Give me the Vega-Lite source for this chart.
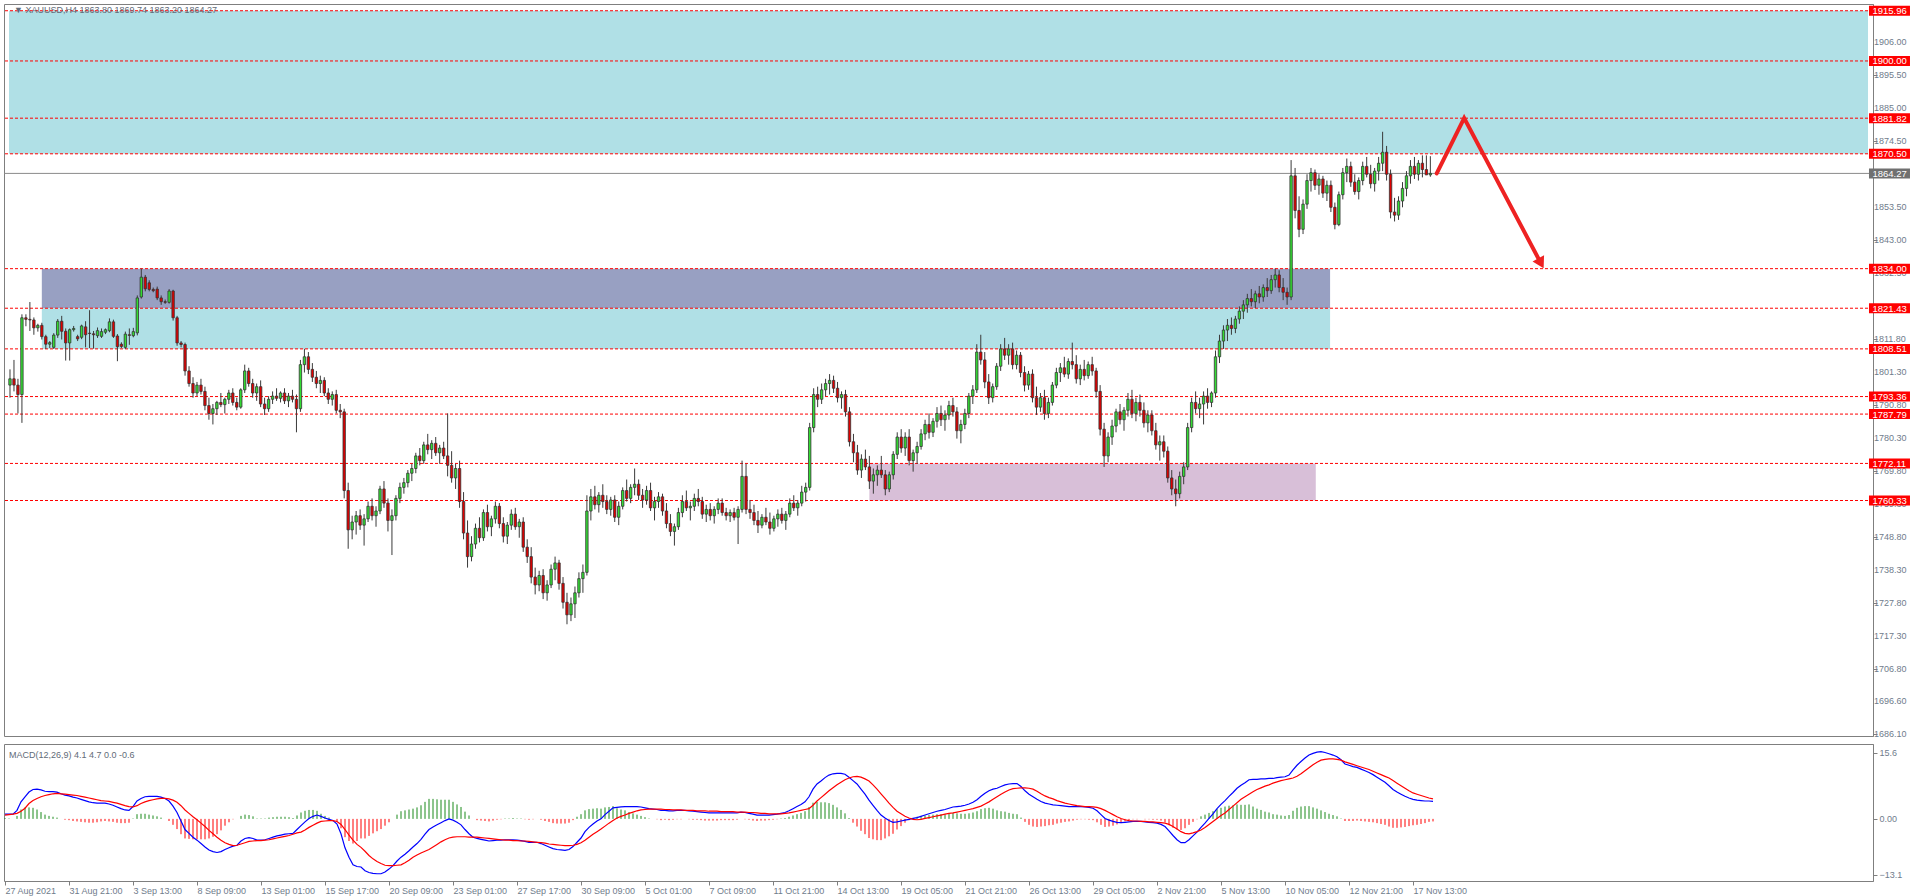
{
"$schema":"https://vega.github.io/schema/vega-lite/v6.json",
"padding":{"left":2,"top":3,"right":0,"bottom":0},
"background":"white",
"spacing":3,
"config":{"view":{"stroke":"#7f7f7f","strokeWidth":1},"axis":{"labelFont":"Liberation Sans","labelFontSize":9,"labelColor":"#6f7c8c","domainColor":"#7f7f7f","tickColor":"#7f7f7f","grid":false,"title":null,"labelOverlap":false}},
"datasets":{
"zones":[{"z":"top","a":-0.25,"b":467,"lo":1870.5,"hi":1915.96},{"z":"dark","a":8,"b":331.8,"lo":1821.43,"hi":1834},{"z":"cyan","a":8,"b":331.8,"lo":1808.51,"hi":1821.43},{"z":"pink","a":216,"b":328.2,"lo":1760.33,"hi":1772.11}],
"levels":[{"p":1915.96,"k":"level"},{"p":1900,"k":"level"},{"p":1881.82,"k":"level"},{"p":1870.5,"k":"level"},{"p":1834,"k":"level"},{"p":1821.43,"k":"level"},{"p":1808.51,"k":"level"},{"p":1793.36,"k":"level"},{"p":1787.79,"k":"level"},{"p":1772.11,"k":"level"},{"p":1760.33,"k":"level"},{"p":1864.27,"k":"price"}],
"yticks":[{"v":1906},{"v":1895.5},{"v":1885},{"v":1874.5},{"v":1853.5},{"v":1843},{"v":1832.5},{"v":1811.8},{"v":1801.3},{"v":1790.8},{"v":1780.3},{"v":1769.8},{"v":1759.3},{"v":1748.8},{"v":1738.3},{"v":1727.8},{"v":1717.3},{"v":1706.8},{"v":1696.6},{"v":1686.1}],
"arrow":[{"n":0,"i":358.6,"p":1864.27},{"n":1,"i":365.5,"p":1881.82},{"n":2,"i":384.8,"p":1835.7}],
"bars":[
{"i":0,"o":1797,"h":1802,"l":1793,"c":1799,"m":1.1,"s":0.9,"d":0.2},
{"i":1,"o":1799,"h":1805,"l":1795,"c":1797,"m":1.1,"s":1.0,"d":0.1},
{"i":2,"o":1797,"h":1799,"l":1788,"c":1794,"m":1.1,"s":1.1,"d":0.0},
{"i":3,"o":1794,"h":1819.5,"l":1785,"c":1818.4,"m":2.0,"s":1.3,"d":0.7},
{"i":4,"o":1818.4,"h":1819.5,"l":1815.7,"c":1817.9,"m":4.0,"s":1.8,"d":2.2},
{"i":5,"o":1817.9,"h":1823.4,"l":1814.2,"c":1817.7,"m":5.2,"s":2.5,"d":2.7},
{"i":6,"o":1817.7,"h":1818.5,"l":1813,"c":1815.2,"m":6.3,"s":3.6,"d":2.7},
{"i":7,"o":1815.2,"h":1816.5,"l":1814,"c":1816,"m":6.9,"s":4.3,"d":2.6},
{"i":8,"o":1816,"h":1816.8,"l":1811.5,"c":1812.4,"m":7.0,"s":4.8,"d":2.2},
{"i":9,"o":1812.4,"h":1813,"l":1808.5,"c":1810,"m":6.8,"s":5.2,"d":1.6},
{"i":10,"o":1810,"h":1811,"l":1808.8,"c":1810.5,"m":6.5,"s":5.5,"d":1.0},
{"i":11,"o":1809,"h":1813.5,"l":1808.5,"c":1812.9,"m":6.4,"s":5.7,"d":0.7},
{"i":12,"o":1812.9,"h":1818,"l":1812,"c":1817.3,"m":6.4,"s":5.9,"d":0.5},
{"i":13,"o":1817.3,"h":1819,"l":1811.5,"c":1814.1,"m":6.3,"s":6.0,"d":0.3},
{"i":14,"o":1814.1,"h":1815,"l":1804.8,"c":1810.4,"m":5.9,"s":5.9,"d":0.0},
{"i":15,"o":1810.4,"h":1815,"l":1804.8,"c":1814.6,"m":5.6,"s":5.8,"d":-0.2},
{"i":16,"o":1814.6,"h":1815.8,"l":1814,"c":1815,"m":5.4,"s":5.7,"d":-0.3},
{"i":17,"o":1812.4,"h":1813,"l":1811,"c":1811.7,"m":5.1,"s":5.6,"d":-0.5},
{"i":18,"o":1812.2,"h":1816.2,"l":1811.6,"c":1815.8,"m":4.9,"s":5.5,"d":-0.6},
{"i":19,"o":1815.5,"h":1817.3,"l":1809,"c":1813,"m":4.6,"s":5.3,"d":-0.7},
{"i":20,"o":1813.5,"h":1820.8,"l":1808.8,"c":1813.4,"m":4.3,"s":5.1,"d":-0.8},
{"i":21,"o":1813.3,"h":1814.2,"l":1808.6,"c":1813,"m":4.0,"s":4.9,"d":-0.9},
{"i":22,"o":1812.7,"h":1815.3,"l":1812,"c":1814.3,"m":3.8,"s":4.7,"d":-0.9},
{"i":23,"o":1812.5,"h":1815,"l":1812,"c":1814,"m":3.7,"s":4.5,"d":-0.8},
{"i":24,"o":1813.8,"h":1815,"l":1813.2,"c":1814.6,"m":3.7,"s":4.3,"d":-0.6},
{"i":25,"o":1814.3,"h":1818.2,"l":1813.8,"c":1817.1,"m":3.7,"s":4.2,"d":-0.5},
{"i":26,"o":1817.1,"h":1817.8,"l":1812,"c":1812.5,"m":3.5,"s":4.1,"d":-0.6},
{"i":27,"o":1812.6,"h":1813.2,"l":1804.6,"c":1809.2,"m":3.2,"s":3.9,"d":-0.7},
{"i":28,"o":1810,"h":1810.6,"l":1808.8,"c":1809.3,"m":2.8,"s":3.7,"d":-0.9},
{"i":29,"o":1809,"h":1814,"l":1808.5,"c":1813.2,"m":2.4,"s":3.4,"d":-1.0},
{"i":30,"o":1813,"h":1815,"l":1809.8,"c":1812.8,"m":2.1,"s":3.1,"d":-1.0},
{"i":31,"o":1812.7,"h":1815.2,"l":1812.2,"c":1814,"m":2.0,"s":2.9,"d":-0.9},
{"i":32,"o":1813.6,"h":1825.5,"l":1812.8,"c":1824.7,"m":2.9,"s":2.8,"d":0.1},
{"i":33,"o":1825,"h":1834,"l":1824.5,"c":1831.3,"m":4.2,"s":3.1,"d":1.1},
{"i":34,"o":1831.3,"h":1832,"l":1826.8,"c":1827.6,"m":4.8,"s":3.6,"d":1.2},
{"i":35,"o":1829.5,"h":1830.3,"l":1826.8,"c":1827.4,"m":5.2,"s":4.0,"d":1.2},
{"i":36,"o":1827.4,"h":1828,"l":1826.5,"c":1827,"m":5.3,"s":4.3,"d":1.0},
{"i":37,"o":1827.5,"h":1828.3,"l":1824,"c":1824.7,"m":5.3,"s":4.5,"d":0.8},
{"i":38,"o":1824.7,"h":1825.5,"l":1822.5,"c":1823.5,"m":5.3,"s":4.7,"d":0.6},
{"i":39,"o":1823.5,"h":1824.2,"l":1822.8,"c":1823.3,"m":5.1,"s":4.8,"d":0.3},
{"i":40,"o":1823.3,"h":1827.5,"l":1822.9,"c":1826.9,"m":4.8,"s":4.8,"d":0.0},
{"i":41,"o":1826.9,"h":1827.3,"l":1817.5,"c":1818.4,"m":4.2,"s":4.7,"d":-0.5},
{"i":42,"o":1818.4,"h":1819,"l":1809.5,"c":1810.4,"m":3.0,"s":4.4,"d":-1.4},
{"i":43,"o":1810.4,"h":1811,"l":1809,"c":1809.9,"m":1.5,"s":3.9,"d":-2.4},
{"i":44,"o":1809.9,"h":1810.5,"l":1800,"c":1801.5,"m":-0.5,"s":3.1,"d":-3.6},
{"i":45,"o":1801.5,"h":1803,"l":1796.5,"c":1797.5,"m":-2.5,"s":2.1,"d":-4.6},
{"i":46,"o":1797.5,"h":1799.5,"l":1793,"c":1794.5,"m":-3.4,"s":1.3,"d":-4.7},
{"i":47,"o":1794.5,"h":1798,"l":1793.5,"c":1797,"m":-4.3,"s":0.5,"d":-4.8},
{"i":48,"o":1797,"h":1799,"l":1794,"c":1795,"m":-5.0,"s":-0.2,"d":-4.8},
{"i":49,"o":1795,"h":1796.5,"l":1789,"c":1790.5,"m":-5.8,"s":-1.0,"d":-4.8},
{"i":50,"o":1790.5,"h":1793,"l":1786,"c":1788,"m":-6.6,"s":-1.8,"d":-4.8},
{"i":51,"o":1788,"h":1791,"l":1784.5,"c":1789.5,"m":-7.3,"s":-2.7,"d":-4.6},
{"i":52,"o":1789.5,"h":1792,"l":1787.5,"c":1791.5,"m":-7.7,"s":-3.5,"d":-4.2},
{"i":53,"o":1791.5,"h":1794.5,"l":1790,"c":1790.8,"m":-7.9,"s":-4.3,"d":-3.6},
{"i":54,"o":1790.8,"h":1793,"l":1788,"c":1792.5,"m":-7.7,"s":-5.0,"d":-2.7},
{"i":55,"o":1792.5,"h":1795.5,"l":1791,"c":1794.5,"m":-7.2,"s":-5.6,"d":-1.6},
{"i":56,"o":1794.5,"h":1796,"l":1790.5,"c":1791.5,"m":-6.8,"s":-6.0,"d":-0.8},
{"i":57,"o":1791.5,"h":1793,"l":1789,"c":1790,"m":-6.4,"s":-6.3,"d":-0.1},
{"i":58,"o":1790,"h":1796,"l":1789.5,"c":1795.5,"m":-6.2,"s":-6.2,"d":0.0},
{"i":59,"o":1795.5,"h":1803.5,"l":1794.5,"c":1801.5,"m":-5.2,"s":-5.9,"d":0.7},
{"i":60,"o":1801.5,"h":1802.5,"l":1796.5,"c":1797.5,"m":-4.6,"s":-5.6,"d":1.0},
{"i":61,"o":1797.5,"h":1799,"l":1793,"c":1794.5,"m":-4.4,"s":-5.3,"d":0.9},
{"i":62,"o":1794.5,"h":1797.5,"l":1792,"c":1796.5,"m":-4.6,"s":-5.2,"d":0.6},
{"i":63,"o":1796.5,"h":1798.5,"l":1790,"c":1791,"m":-5.0,"s":-5.1,"d":0.1},
{"i":64,"o":1791,"h":1793,"l":1787.5,"c":1789.5,"m":-5.0,"s":-5.1,"d":0.1},
{"i":65,"o":1789.5,"h":1793.5,"l":1788.5,"c":1792.5,"m":-4.9,"s":-5.0,"d":0.1},
{"i":66,"o":1792.5,"h":1795,"l":1791,"c":1793.5,"m":-4.6,"s":-4.9,"d":0.3},
{"i":67,"o":1793.5,"h":1796,"l":1792,"c":1792.8,"m":-4.3,"s":-4.7,"d":0.4},
{"i":68,"o":1792.8,"h":1795,"l":1791.5,"c":1794.5,"m":-4.0,"s":-4.5,"d":0.5},
{"i":69,"o":1794.5,"h":1796,"l":1791,"c":1792,"m":-3.8,"s":-4.3,"d":0.5},
{"i":70,"o":1792,"h":1794.5,"l":1790,"c":1793.5,"m":-3.6,"s":-4.1,"d":0.5},
{"i":71,"o":1793.5,"h":1795.5,"l":1791.5,"c":1792.5,"m":-3.5,"s":-3.9,"d":0.4},
{"i":72,"o":1792.5,"h":1794,"l":1782,"c":1789.5,"m":-3.4,"s":-3.6,"d":0.2},
{"i":73,"o":1789.5,"h":1805,"l":1788.5,"c":1803.5,"m":-2.5,"s":-3.3,"d":0.8},
{"i":74,"o":1803.5,"h":1808.5,"l":1801,"c":1806,"m":-1.6,"s":-3.1,"d":1.5},
{"i":75,"o":1806,"h":1807.5,"l":1800.5,"c":1802,"m":-0.7,"s":-2.6,"d":1.9},
{"i":76,"o":1802,"h":1804,"l":1798,"c":1799.5,"m":0.1,"s":-2.0,"d":2.1},
{"i":77,"o":1799.5,"h":1801.5,"l":1796,"c":1797.5,"m":0.6,"s":-1.5,"d":2.1},
{"i":78,"o":1797.5,"h":1800,"l":1794.5,"c":1798.5,"m":0.9,"s":-1.0,"d":1.9},
{"i":79,"o":1798.5,"h":1799.5,"l":1793.5,"c":1794.5,"m":0.6,"s":-0.6,"d":1.2},
{"i":80,"o":1794.5,"h":1796,"l":1791,"c":1792.5,"m":0.2,"s":-0.5,"d":0.7},
{"i":81,"o":1792.5,"h":1795,"l":1790.5,"c":1794,"m":-0.1,"s":-0.4,"d":0.3},
{"i":82,"o":1794,"h":1795.5,"l":1788,"c":1789,"m":-0.4,"s":-0.4,"d":0.0},
{"i":83,"o":1789,"h":1791,"l":1786.5,"c":1788.5,"m":-1.2,"s":-0.6,"d":-0.6},
{"i":84,"o":1788.5,"h":1789.5,"l":1761,"c":1763.5,"m":-3.5,"s":-1.3,"d":-2.2},
{"i":85,"o":1763.5,"h":1766,"l":1745,"c":1751,"m":-6.8,"s":-2.5,"d":-4.3},
{"i":86,"o":1751,"h":1755.5,"l":1748,"c":1753.5,"m":-9.0,"s":-3.8,"d":-5.2},
{"i":87,"o":1753.5,"h":1757,"l":1749.5,"c":1755.5,"m":-10.8,"s":-5.0,"d":-5.8},
{"i":88,"o":1755.5,"h":1757.5,"l":1751,"c":1752.5,"m":-11.2,"s":-6.0,"d":-5.2},
{"i":89,"o":1752.5,"h":1756,"l":1746,"c":1754.5,"m":-11.3,"s":-6.7,"d":-4.6},
{"i":90,"o":1754.5,"h":1760,"l":1753.5,"c":1758.5,"m":-12.2,"s":-7.6,"d":-4.6},
{"i":91,"o":1758.5,"h":1761,"l":1754,"c":1755.5,"m":-12.6,"s":-8.6,"d":-4.0},
{"i":92,"o":1755.5,"h":1758.5,"l":1752,"c":1757,"m":-12.8,"s":-9.4,"d":-3.4},
{"i":93,"o":1757,"h":1765,"l":1756,"c":1764,"m":-12.9,"s":-10.0,"d":-2.9},
{"i":94,"o":1764,"h":1766.5,"l":1758,"c":1759.5,"m":-12.9,"s":-10.5,"d":-2.4},
{"i":95,"o":1759.5,"h":1761,"l":1750.5,"c":1754,"m":-12.5,"s":-10.9,"d":-1.6},
{"i":96,"o":1754,"h":1757.5,"l":1743,"c":1755.5,"m":-11.8,"s":-11.0,"d":-0.8},
{"i":97,"o":1755.5,"h":1762,"l":1754,"c":1761,"m":-11.0,"s":-11.0,"d":0.0},
{"i":98,"o":1761,"h":1766,"l":1759.5,"c":1764.5,"m":-9.9,"s":-10.9,"d":1.0},
{"i":99,"o":1764.5,"h":1767.5,"l":1762.5,"c":1766,"m":-9.0,"s":-10.8,"d":1.8},
{"i":100,"o":1766,"h":1770,"l":1764.5,"c":1769,"m":-8.3,"s":-10.3,"d":2.0},
{"i":101,"o":1769,"h":1772,"l":1766.5,"c":1770.5,"m":-7.5,"s":-9.7,"d":2.2},
{"i":102,"o":1770.5,"h":1775.5,"l":1769,"c":1774.5,"m":-6.6,"s":-9.0,"d":2.4},
{"i":103,"o":1774.5,"h":1777,"l":1771.5,"c":1773,"m":-5.8,"s":-8.5,"d":2.7},
{"i":104,"o":1773,"h":1779,"l":1772,"c":1778,"m":-4.8,"s":-8.0,"d":3.2},
{"i":105,"o":1778,"h":1781.5,"l":1775,"c":1776.5,"m":-3.6,"s":-7.6,"d":4.0},
{"i":106,"o":1776.5,"h":1779.5,"l":1773.5,"c":1778.5,"m":-2.5,"s":-7.2,"d":4.7},
{"i":107,"o":1778.5,"h":1780.5,"l":1774.5,"c":1775.5,"m":-1.9,"s":-6.6,"d":4.7},
{"i":108,"o":1775.5,"h":1778,"l":1772,"c":1777,"m":-1.4,"s":-6.0,"d":4.6},
{"i":109,"o":1777,"h":1779,"l":1773.5,"c":1774.5,"m":-0.9,"s":-5.4,"d":4.5},
{"i":110,"o":1774.5,"h":1788,"l":1768,"c":1771.5,"m":-0.4,"s":-4.9,"d":4.5},
{"i":111,"o":1771.5,"h":1776,"l":1766,"c":1767.5,"m":0.0,"s":-4.5,"d":4.5},
{"i":112,"o":1767.5,"h":1772,"l":1764,"c":1770.5,"m":-0.3,"s":-4.3,"d":4.0},
{"i":113,"o":1770.5,"h":1773,"l":1758,"c":1760,"m":-0.8,"s":-4.2,"d":3.4},
{"i":114,"o":1760,"h":1763,"l":1748,"c":1750,"m":-1.4,"s":-4.2,"d":2.8},
{"i":115,"o":1750,"h":1754,"l":1739,"c":1742.5,"m":-2.5,"s":-4.2,"d":1.7},
{"i":116,"o":1742.5,"h":1749,"l":1741,"c":1746.5,"m":-3.5,"s":-4.3,"d":0.8},
{"i":117,"o":1746.5,"h":1753,"l":1745,"c":1751.5,"m":-4.3,"s":-4.3,"d":0.0},
{"i":118,"o":1751.5,"h":1755,"l":1747,"c":1748.5,"m":-4.6,"s":-4.3,"d":-0.3},
{"i":119,"o":1748.5,"h":1757.5,"l":1747.5,"c":1756.5,"m":-4.8,"s":-4.4,"d":-0.4},
{"i":120,"o":1756.5,"h":1759,"l":1750.5,"c":1752,"m":-5.0,"s":-4.5,"d":-0.5},
{"i":121,"o":1752,"h":1755.5,"l":1749,"c":1754.5,"m":-5.2,"s":-4.6,"d":-0.6},
{"i":122,"o":1754.5,"h":1760,"l":1753,"c":1758.5,"m":-5.1,"s":-4.7,"d":-0.4},
{"i":123,"o":1758.5,"h":1759.5,"l":1751.5,"c":1753,"m":-5.0,"s":-4.8,"d":-0.2},
{"i":124,"o":1753,"h":1755,"l":1747,"c":1749,"m":-5.0,"s":-4.9,"d":-0.1},
{"i":125,"o":1749,"h":1753.5,"l":1746.5,"c":1752.5,"m":-4.9,"s":-5.0,"d":0.1},
{"i":126,"o":1752.5,"h":1757.5,"l":1751,"c":1756,"m":-4.9,"s":-5.0,"d":0.1},
{"i":127,"o":1756,"h":1758,"l":1751,"c":1752,"m":-4.9,"s":-5.1,"d":0.2},
{"i":128,"o":1752,"h":1754.5,"l":1748.5,"c":1753.5,"m":-5.0,"s":-5.1,"d":0.1},
{"i":129,"o":1753.5,"h":1755,"l":1744,"c":1745.5,"m":-5.1,"s":-5.2,"d":0.1},
{"i":130,"o":1745.5,"h":1748,"l":1740.5,"c":1742.5,"m":-5.3,"s":-5.2,"d":-0.1},
{"i":131,"o":1742.5,"h":1745.5,"l":1734,"c":1736,"m":-5.5,"s":-5.3,"d":-0.2},
{"i":132,"o":1736,"h":1739,"l":1730.5,"c":1733.5,"m":-5.5,"s":-5.4,"d":-0.1},
{"i":133,"o":1733.5,"h":1738,"l":1731.5,"c":1736.5,"m":-5.5,"s":-5.5,"d":0.0},
{"i":134,"o":1736.5,"h":1738.5,"l":1729,"c":1731,"m":-5.8,"s":-5.6,"d":-0.2},
{"i":135,"o":1731,"h":1735,"l":1728.5,"c":1733.5,"m":-6.2,"s":-5.7,"d":-0.5},
{"i":136,"o":1733.5,"h":1740,"l":1732.5,"c":1738.5,"m":-6.6,"s":-5.9,"d":-0.7},
{"i":137,"o":1738.5,"h":1742.5,"l":1735,"c":1740.5,"m":-7.0,"s":-6.0,"d":-1.0},
{"i":138,"o":1740.5,"h":1741.5,"l":1732,"c":1734,"m":-7.2,"s":-6.1,"d":-1.1},
{"i":139,"o":1734,"h":1736,"l":1726,"c":1728,"m":-7.3,"s":-6.2,"d":-1.1},
{"i":140,"o":1728,"h":1731,"l":1721,"c":1724,"m":-7.4,"s":-6.3,"d":-1.1},
{"i":141,"o":1724,"h":1729.5,"l":1722,"c":1727.5,"m":-7.2,"s":-6.3,"d":-0.9},
{"i":142,"o":1727.5,"h":1733,"l":1723,"c":1731,"m":-6.5,"s":-6.2,"d":-0.3},
{"i":143,"o":1731,"h":1737.5,"l":1729.5,"c":1735.5,"m":-5.5,"s":-6.0,"d":0.5},
{"i":144,"o":1735.5,"h":1740,"l":1731,"c":1737.5,"m":-4.5,"s":-5.6,"d":1.1},
{"i":145,"o":1737.5,"h":1762,"l":1736.5,"c":1757,"m":-3.0,"s":-5.0,"d":2.0},
{"i":146,"o":1757,"h":1764,"l":1754,"c":1761.5,"m":-2.0,"s":-4.3,"d":2.3},
{"i":147,"o":1761.5,"h":1765,"l":1757.5,"c":1759,"m":-1.2,"s":-3.6,"d":2.4},
{"i":148,"o":1759,"h":1763,"l":1756.5,"c":1762,"m":-0.5,"s":-3.0,"d":2.5},
{"i":149,"o":1762,"h":1765.5,"l":1758,"c":1760,"m":0.0,"s":-2.4,"d":2.4},
{"i":150,"o":1760,"h":1762,"l":1756,"c":1757.5,"m":1.0,"s":-1.7,"d":2.7},
{"i":151,"o":1757.5,"h":1761.5,"l":1755.5,"c":1760.5,"m":1.8,"s":-1.0,"d":2.8},
{"i":152,"o":1760.5,"h":1762,"l":1753.5,"c":1755,"m":2.6,"s":-0.4,"d":3.0},
{"i":153,"o":1755,"h":1760,"l":1752.5,"c":1758.5,"m":2.7,"s":0.2,"d":2.5},
{"i":154,"o":1758.5,"h":1764.5,"l":1757.5,"c":1763.5,"m":2.8,"s":0.6,"d":2.2},
{"i":155,"o":1763.5,"h":1767,"l":1760,"c":1761,"m":2.9,"s":0.9,"d":2.0},
{"i":156,"o":1761,"h":1765.5,"l":1759.5,"c":1764.5,"m":2.9,"s":1.3,"d":1.6},
{"i":157,"o":1764.5,"h":1770.5,"l":1762,"c":1765.5,"m":2.9,"s":1.6,"d":1.3},
{"i":158,"o":1765.5,"h":1767,"l":1760.5,"c":1762,"m":2.9,"s":1.9,"d":1.0},
{"i":159,"o":1762,"h":1764,"l":1758,"c":1760.5,"m":2.8,"s":2.1,"d":0.7},
{"i":160,"o":1760.5,"h":1765,"l":1759,"c":1763.5,"m":2.6,"s":2.2,"d":0.4},
{"i":161,"o":1763.5,"h":1766,"l":1757,"c":1758,"m":2.4,"s":2.3,"d":0.1},
{"i":162,"o":1758,"h":1761.5,"l":1754,"c":1760,"m":2.3,"s":2.3,"d":0.0},
{"i":163,"o":1760,"h":1763,"l":1758,"c":1761.5,"m":2.2,"s":2.3,"d":-0.1},
{"i":164,"o":1761.5,"h":1762.5,"l":1755.5,"c":1757,"m":2.0,"s":2.3,"d":-0.3},
{"i":165,"o":1757,"h":1759.5,"l":1751.5,"c":1753,"m":2.0,"s":2.2,"d":-0.2},
{"i":166,"o":1753,"h":1756,"l":1749,"c":1750.5,"m":1.9,"s":2.2,"d":-0.3},
{"i":167,"o":1750.5,"h":1753,"l":1746,"c":1752,"m":1.9,"s":2.1,"d":-0.2},
{"i":168,"o":1752,"h":1758,"l":1751,"c":1756.5,"m":2.0,"s":2.1,"d":-0.1},
{"i":169,"o":1756.5,"h":1762,"l":1755,"c":1760,"m":2.0,"s":2.1,"d":-0.1},
{"i":170,"o":1760,"h":1763.5,"l":1757,"c":1758,"m":2.0,"s":2.0,"d":0.0},
{"i":171,"o":1758,"h":1760,"l":1754,"c":1758.5,"m":1.9,"s":2.0,"d":-0.1},
{"i":172,"o":1758.5,"h":1762.5,"l":1757,"c":1761,"m":1.8,"s":2.0,"d":-0.2},
{"i":173,"o":1761,"h":1764,"l":1758.5,"c":1760,"m":1.7,"s":1.9,"d":-0.2},
{"i":174,"o":1760,"h":1761.5,"l":1754.5,"c":1756,"m":1.6,"s":1.9,"d":-0.3},
{"i":175,"o":1756,"h":1759,"l":1753.5,"c":1757.5,"m":1.5,"s":1.9,"d":-0.4},
{"i":176,"o":1757.5,"h":1759.5,"l":1754,"c":1755.5,"m":1.4,"s":1.8,"d":-0.4},
{"i":177,"o":1755.5,"h":1758.5,"l":1753,"c":1757.5,"m":1.4,"s":1.8,"d":-0.4},
{"i":178,"o":1757.5,"h":1761,"l":1756,"c":1759.5,"m":1.4,"s":1.8,"d":-0.4},
{"i":179,"o":1759.5,"h":1761,"l":1755.5,"c":1756.5,"m":1.4,"s":1.7,"d":-0.3},
{"i":180,"o":1756.5,"h":1758,"l":1754,"c":1755.5,"m":1.4,"s":1.7,"d":-0.3},
{"i":181,"o":1755.5,"h":1757.5,"l":1753.5,"c":1756.5,"m":1.4,"s":1.7,"d":-0.3},
{"i":182,"o":1756.5,"h":1758,"l":1754,"c":1755,"m":1.4,"s":1.7,"d":-0.3},
{"i":183,"o":1755,"h":1758.5,"l":1746.5,"c":1757.5,"m":1.4,"s":1.6,"d":-0.2},
{"i":184,"o":1757.5,"h":1773,"l":1756.5,"c":1768,"m":1.6,"s":1.6,"d":0.0},
{"i":185,"o":1768,"h":1772,"l":1756,"c":1757.5,"m":1.5,"s":1.6,"d":-0.1},
{"i":186,"o":1757.5,"h":1760.5,"l":1754.5,"c":1756.5,"m":1.3,"s":1.5,"d":-0.2},
{"i":187,"o":1756.5,"h":1759,"l":1752.5,"c":1754,"m":1.1,"s":1.5,"d":-0.4},
{"i":188,"o":1754,"h":1757,"l":1750,"c":1752.5,"m":0.9,"s":1.4,"d":-0.5},
{"i":189,"o":1752.5,"h":1756,"l":1751.5,"c":1755,"m":0.9,"s":1.3,"d":-0.4},
{"i":190,"o":1755,"h":1758,"l":1752.5,"c":1753.5,"m":0.9,"s":1.3,"d":-0.4},
{"i":191,"o":1753.5,"h":1756.5,"l":1749.5,"c":1751.5,"m":0.9,"s":1.2,"d":-0.3},
{"i":192,"o":1751.5,"h":1755.5,"l":1750.5,"c":1754.5,"m":1.0,"s":1.2,"d":-0.2},
{"i":193,"o":1754.5,"h":1757.5,"l":1752,"c":1756,"m":1.1,"s":1.2,"d":-0.1},
{"i":194,"o":1756,"h":1758,"l":1753,"c":1754,"m":1.3,"s":1.2,"d":0.1},
{"i":195,"o":1754,"h":1757,"l":1751,"c":1756,"m":1.5,"s":1.3,"d":0.2},
{"i":196,"o":1756,"h":1761,"l":1755,"c":1759.5,"m":1.9,"s":1.4,"d":0.5},
{"i":197,"o":1759.5,"h":1762,"l":1757,"c":1758,"m":2.4,"s":1.6,"d":0.8},
{"i":198,"o":1758,"h":1760.5,"l":1755.5,"c":1759.5,"m":2.9,"s":1.8,"d":1.1},
{"i":199,"o":1759.5,"h":1765,"l":1758.5,"c":1763,"m":3.4,"s":2.0,"d":1.4},
{"i":200,"o":1763,"h":1766,"l":1760,"c":1764.5,"m":4.0,"s":2.2,"d":1.8},
{"i":201,"o":1764.5,"h":1785,"l":1763.5,"c":1783.5,"m":5.2,"s":2.4,"d":2.8},
{"i":202,"o":1783.5,"h":1796,"l":1782,"c":1794,"m":7.0,"s":3.2,"d":3.8},
{"i":203,"o":1794,"h":1796.5,"l":1790,"c":1792.5,"m":8.2,"s":4.2,"d":4.0},
{"i":204,"o":1792.5,"h":1797.5,"l":1791,"c":1795.5,"m":8.9,"s":5.0,"d":3.9},
{"i":205,"o":1795.5,"h":1799,"l":1793.5,"c":1797.5,"m":9.7,"s":5.8,"d":3.9},
{"i":206,"o":1797.5,"h":1800.5,"l":1794,"c":1798.5,"m":10.3,"s":6.6,"d":3.7},
{"i":207,"o":1798.5,"h":1800,"l":1794.5,"c":1796,"m":10.6,"s":7.3,"d":3.3},
{"i":208,"o":1796,"h":1798,"l":1791.5,"c":1793,"m":10.7,"s":8.0,"d":2.7},
{"i":209,"o":1793,"h":1795,"l":1789.5,"c":1794,"m":10.7,"s":8.6,"d":2.1},
{"i":210,"o":1794,"h":1795.5,"l":1787,"c":1788.5,"m":10.5,"s":9.2,"d":1.3},
{"i":211,"o":1788.5,"h":1790,"l":1777.5,"c":1779,"m":9.8,"s":9.6,"d":0.2},
{"i":212,"o":1779,"h":1781.5,"l":1772.5,"c":1775.5,"m":9.0,"s":9.9,"d":-0.9},
{"i":213,"o":1775.5,"h":1778,"l":1768.5,"c":1770,"m":8.2,"s":10.0,"d":-1.8},
{"i":214,"o":1770,"h":1775,"l":1767.5,"c":1773.5,"m":7.0,"s":9.8,"d":-2.8},
{"i":215,"o":1773.5,"h":1776.5,"l":1770,"c":1771,"m":5.8,"s":9.4,"d":-3.6},
{"i":216,"o":1771,"h":1774.5,"l":1764,"c":1766.5,"m":4.4,"s":8.9,"d":-4.5},
{"i":217,"o":1766.5,"h":1770.5,"l":1762.5,"c":1768.5,"m":3.2,"s":8.0,"d":-4.8},
{"i":218,"o":1768.5,"h":1771.5,"l":1765,"c":1770,"m":2.0,"s":7.0,"d":-5.0},
{"i":219,"o":1770,"h":1774.5,"l":1767.5,"c":1768.5,"m":0.9,"s":5.9,"d":-5.0},
{"i":220,"o":1768.5,"h":1770,"l":1762,"c":1764,"m":0.2,"s":4.8,"d":-4.6},
{"i":221,"o":1764,"h":1769.5,"l":1763,"c":1768.5,"m":-0.4,"s":3.7,"d":-4.1},
{"i":222,"o":1768.5,"h":1776,"l":1767,"c":1775,"m":-0.8,"s":2.7,"d":-3.5},
{"i":223,"o":1775,"h":1782,"l":1773.5,"c":1780.5,"m":-0.7,"s":1.8,"d":-2.5},
{"i":224,"o":1780.5,"h":1783,"l":1775.5,"c":1777,"m":-0.5,"s":1.2,"d":-1.7},
{"i":225,"o":1777,"h":1782,"l":1774.5,"c":1780.5,"m":-0.3,"s":0.6,"d":-0.9},
{"i":226,"o":1780.5,"h":1783,"l":1771.5,"c":1773,"m":-0.1,"s":0.2,"d":-0.3},
{"i":227,"o":1773,"h":1776.5,"l":1769.5,"c":1775.5,"m":0.1,"s":-0.1,"d":0.2},
{"i":228,"o":1775.5,"h":1779,"l":1772,"c":1777.5,"m":0.3,"s":-0.2,"d":0.5},
{"i":229,"o":1777.5,"h":1783,"l":1776.5,"c":1781.5,"m":0.6,"s":-0.1,"d":0.7},
{"i":230,"o":1781.5,"h":1786,"l":1779.5,"c":1784.5,"m":0.9,"s":0.1,"d":0.8},
{"i":231,"o":1784.5,"h":1788,"l":1780,"c":1782,"m":1.2,"s":0.3,"d":0.9},
{"i":232,"o":1782,"h":1786.5,"l":1780.5,"c":1785.5,"m":1.5,"s":0.5,"d":1.0},
{"i":233,"o":1785.5,"h":1790,"l":1783.5,"c":1788,"m":1.8,"s":0.7,"d":1.1},
{"i":234,"o":1788,"h":1790.5,"l":1784,"c":1786,"m":2.0,"s":0.9,"d":1.1},
{"i":235,"o":1786,"h":1789,"l":1782.5,"c":1787.5,"m":2.2,"s":1.1,"d":1.1},
{"i":236,"o":1787.5,"h":1792,"l":1786,"c":1790.5,"m":2.5,"s":1.3,"d":1.2},
{"i":237,"o":1790.5,"h":1793,"l":1787,"c":1788.5,"m":2.8,"s":1.4,"d":1.4},
{"i":238,"o":1788.5,"h":1790,"l":1780,"c":1782.5,"m":2.9,"s":1.6,"d":1.3},
{"i":239,"o":1782.5,"h":1786,"l":1778.5,"c":1784.5,"m":3.0,"s":1.8,"d":1.2},
{"i":240,"o":1784.5,"h":1789.5,"l":1783,"c":1788,"m":3.2,"s":2.0,"d":1.2},
{"i":241,"o":1788,"h":1794.5,"l":1786.5,"c":1793.5,"m":3.5,"s":2.2,"d":1.3},
{"i":242,"o":1793.5,"h":1797,"l":1791,"c":1795.5,"m":3.9,"s":2.4,"d":1.5},
{"i":243,"o":1795.5,"h":1810,"l":1794.5,"c":1807.5,"m":4.5,"s":2.7,"d":1.8},
{"i":244,"o":1807.5,"h":1813,"l":1803.5,"c":1805,"m":5.3,"s":3.0,"d":2.3},
{"i":245,"o":1805,"h":1807.5,"l":1796,"c":1798,"m":6.0,"s":3.5,"d":2.5},
{"i":246,"o":1798,"h":1800.5,"l":1791,"c":1793,"m":6.6,"s":4.0,"d":2.6},
{"i":247,"o":1793,"h":1797.5,"l":1791.5,"c":1796.5,"m":7.0,"s":4.6,"d":2.4},
{"i":248,"o":1796.5,"h":1804,"l":1795.5,"c":1803,"m":7.2,"s":5.2,"d":2.0},
{"i":249,"o":1803,"h":1810,"l":1801.5,"c":1808.5,"m":7.6,"s":5.8,"d":1.8},
{"i":250,"o":1808.5,"h":1812,"l":1805,"c":1806.5,"m":8.0,"s":6.3,"d":1.7},
{"i":251,"o":1806.5,"h":1810,"l":1803.5,"c":1808.5,"m":8.2,"s":6.8,"d":1.4},
{"i":252,"o":1808.5,"h":1810.5,"l":1802,"c":1803.5,"m":8.3,"s":7.1,"d":1.2},
{"i":253,"o":1803.5,"h":1808,"l":1802,"c":1806.5,"m":8.3,"s":7.2,"d":1.1},
{"i":254,"o":1806.5,"h":1807.5,"l":1799.5,"c":1801,"m":7.6,"s":7.3,"d":0.3},
{"i":255,"o":1801,"h":1803,"l":1795,"c":1797,"m":6.6,"s":7.3,"d":-0.7},
{"i":256,"o":1797,"h":1801.5,"l":1795.5,"c":1800.5,"m":5.8,"s":7.2,"d":-1.4},
{"i":257,"o":1800.5,"h":1802,"l":1791.5,"c":1793,"m":5.2,"s":7.0,"d":-1.8},
{"i":258,"o":1793,"h":1796.5,"l":1787.5,"c":1790,"m":4.6,"s":6.5,"d":-1.9},
{"i":259,"o":1790,"h":1794.5,"l":1788.5,"c":1793,"m":4.1,"s":5.9,"d":-1.8},
{"i":260,"o":1793,"h":1795.5,"l":1786,"c":1788,"m":3.7,"s":5.4,"d":-1.7},
{"i":261,"o":1788,"h":1793,"l":1786.5,"c":1791.5,"m":3.5,"s":5.0,"d":-1.5},
{"i":262,"o":1791.5,"h":1798,"l":1790.5,"c":1797,"m":3.3,"s":4.7,"d":-1.4},
{"i":263,"o":1797,"h":1802.5,"l":1796,"c":1801,"m":3.2,"s":4.3,"d":-1.1},
{"i":264,"o":1801,"h":1804,"l":1798,"c":1802.5,"m":3.1,"s":4.0,"d":-0.9},
{"i":265,"o":1802.5,"h":1806,"l":1799.5,"c":1800.5,"m":3.0,"s":3.7,"d":-0.7},
{"i":266,"o":1800.5,"h":1805.5,"l":1799,"c":1804.5,"m":2.9,"s":3.5,"d":-0.6},
{"i":267,"o":1804.5,"h":1810.5,"l":1802,"c":1803.5,"m":2.9,"s":3.3,"d":-0.4},
{"i":268,"o":1803.5,"h":1806.5,"l":1797.5,"c":1799,"m":2.9,"s":3.1,"d":-0.2},
{"i":269,"o":1799,"h":1803.5,"l":1797,"c":1802,"m":2.9,"s":3.0,"d":-0.1},
{"i":270,"o":1802,"h":1805,"l":1798.5,"c":1800,"m":2.8,"s":2.9,"d":-0.1},
{"i":271,"o":1800,"h":1804.5,"l":1799,"c":1803.5,"m":2.7,"s":2.9,"d":-0.2},
{"i":272,"o":1803.5,"h":1806,"l":1800,"c":1801.5,"m":2.5,"s":2.8,"d":-0.3},
{"i":273,"o":1801.5,"h":1802.5,"l":1793,"c":1795,"m":1.9,"s":2.7,"d":-0.8},
{"i":274,"o":1795,"h":1797,"l":1781,"c":1783,"m":1.0,"s":2.4,"d":-1.4},
{"i":275,"o":1783,"h":1785,"l":1771,"c":1774.5,"m":0.1,"s":2.0,"d":-1.9},
{"i":276,"o":1774.5,"h":1782,"l":1772.5,"c":1780.5,"m":-0.3,"s":1.5,"d":-1.8},
{"i":277,"o":1780.5,"h":1786,"l":1778,"c":1784,"m":-0.6,"s":1.0,"d":-1.6},
{"i":278,"o":1784,"h":1789.5,"l":1782,"c":1788.5,"m":-0.8,"s":0.5,"d":-1.3},
{"i":279,"o":1788.5,"h":1791,"l":1784.5,"c":1786,"m":-0.9,"s":0.1,"d":-1.0},
{"i":280,"o":1786,"h":1790,"l":1782.5,"c":1789,"m":-0.8,"s":-0.2,"d":-0.6},
{"i":281,"o":1789,"h":1794.5,"l":1787,"c":1792.5,"m":-0.7,"s":-0.4,"d":-0.3},
{"i":282,"o":1792.5,"h":1795.5,"l":1786.5,"c":1788,"m":-0.6,"s":-0.5,"d":-0.1},
{"i":283,"o":1788,"h":1793,"l":1785.5,"c":1791.5,"m":-0.6,"s":-0.5,"d":-0.1},
{"i":284,"o":1791.5,"h":1794,"l":1787,"c":1789,"m":-0.6,"s":-0.6,"d":0.0},
{"i":285,"o":1789,"h":1791.5,"l":1783.5,"c":1785,"m":-0.7,"s":-0.6,"d":-0.1},
{"i":286,"o":1785,"h":1789,"l":1782,"c":1787.5,"m":-0.8,"s":-0.7,"d":-0.1},
{"i":287,"o":1787.5,"h":1789,"l":1781,"c":1782.5,"m":-0.9,"s":-0.7,"d":-0.2},
{"i":288,"o":1782.5,"h":1785,"l":1776.5,"c":1778,"m":-1.0,"s":-0.8,"d":-0.2},
{"i":289,"o":1778,"h":1781,"l":1773,"c":1779,"m":-1.3,"s":-0.9,"d":-0.4},
{"i":290,"o":1779,"h":1781,"l":1774,"c":1776,"m":-1.8,"s":-1.0,"d":-0.8},
{"i":291,"o":1776,"h":1777.5,"l":1766,"c":1767.5,"m":-2.8,"s":-1.3,"d":-1.5},
{"i":292,"o":1767.5,"h":1770,"l":1762,"c":1764,"m":-3.9,"s":-1.8,"d":-2.1},
{"i":293,"o":1764,"h":1767,"l":1758.5,"c":1762.5,"m":-4.9,"s":-2.4,"d":-2.5},
{"i":294,"o":1762.5,"h":1769.5,"l":1761,"c":1768,"m":-5.6,"s":-3.0,"d":-2.6},
{"i":295,"o":1768,"h":1772.5,"l":1765.5,"c":1771,"m":-5.6,"s":-3.4,"d":-2.2},
{"i":296,"o":1771,"h":1785,"l":1770,"c":1783.5,"m":-4.9,"s":-3.5,"d":-1.4},
{"i":297,"o":1783.5,"h":1793,"l":1782,"c":1791.5,"m":-4.0,"s":-3.3,"d":-0.7},
{"i":298,"o":1791.5,"h":1795,"l":1788,"c":1789.5,"m":-3.1,"s":-3.0,"d":-0.1},
{"i":299,"o":1789.5,"h":1793,"l":1786.5,"c":1791,"m":-2.0,"s":-2.6,"d":0.6},
{"i":300,"o":1791,"h":1795,"l":1784.5,"c":1793.5,"m":-1.0,"s":-2.0,"d":1.0},
{"i":301,"o":1793.5,"h":1796,"l":1789.5,"c":1791.5,"m":0.1,"s":-1.3,"d":1.4},
{"i":302,"o":1791.5,"h":1795,"l":1790,"c":1794.5,"m":1.2,"s":-0.6,"d":1.8},
{"i":303,"o":1794.5,"h":1808,"l":1793,"c":1806,"m":2.4,"s":0.1,"d":2.3},
{"i":304,"o":1806,"h":1813,"l":1804,"c":1811,"m":3.4,"s":0.8,"d":2.6},
{"i":305,"o":1811,"h":1816,"l":1808.5,"c":1814.5,"m":4.3,"s":1.4,"d":2.9},
{"i":306,"o":1814.5,"h":1818,"l":1811,"c":1816,"m":5.3,"s":2.2,"d":3.1},
{"i":307,"o":1816,"h":1818.5,"l":1813,"c":1815,"m":6.2,"s":3.0,"d":3.2},
{"i":308,"o":1815,"h":1819,"l":1813.5,"c":1818,"m":7.2,"s":3.8,"d":3.4},
{"i":309,"o":1818,"h":1822,"l":1816.5,"c":1820.5,"m":7.9,"s":4.6,"d":3.3},
{"i":310,"o":1820.5,"h":1824,"l":1818,"c":1822.5,"m":8.5,"s":5.2,"d":3.3},
{"i":311,"o":1822.5,"h":1826,"l":1820,"c":1824.5,"m":9.2,"s":5.8,"d":3.4},
{"i":312,"o":1824.5,"h":1827.5,"l":1822,"c":1823.5,"m":9.3,"s":6.4,"d":2.9},
{"i":313,"o":1823.5,"h":1827,"l":1821.5,"c":1826,"m":9.3,"s":6.9,"d":2.4},
{"i":314,"o":1826,"h":1828.5,"l":1823,"c":1825,"m":9.4,"s":7.3,"d":2.1},
{"i":315,"o":1825,"h":1829,"l":1823.5,"c":1828,"m":9.4,"s":7.7,"d":1.7},
{"i":316,"o":1828,"h":1831,"l":1825,"c":1827,"m":9.5,"s":8.0,"d":1.5},
{"i":317,"o":1827,"h":1832,"l":1826,"c":1830.5,"m":9.5,"s":8.4,"d":1.1},
{"i":318,"o":1830.5,"h":1834,"l":1828,"c":1832,"m":9.7,"s":8.7,"d":1.0},
{"i":319,"o":1832,"h":1833.5,"l":1826.5,"c":1828,"m":9.8,"s":9.0,"d":0.8},
{"i":320,"o":1828,"h":1831,"l":1824,"c":1826.5,"m":9.9,"s":9.2,"d":0.7},
{"i":321,"o":1826.5,"h":1828,"l":1822.5,"c":1825,"m":10.3,"s":9.4,"d":0.9},
{"i":322,"o":1825,"h":1868.5,"l":1824,"c":1863.5,"m":11.5,"s":9.6,"d":1.9},
{"i":323,"o":1863.5,"h":1866,"l":1850,"c":1852.5,"m":12.6,"s":10.0,"d":2.6},
{"i":324,"o":1852.5,"h":1857,"l":1844,"c":1846.5,"m":13.5,"s":10.6,"d":2.9},
{"i":325,"o":1846.5,"h":1856,"l":1845,"c":1854.5,"m":14.3,"s":11.3,"d":3.0},
{"i":326,"o":1854.5,"h":1864,"l":1853,"c":1862,"m":15.0,"s":12.0,"d":3.0},
{"i":327,"o":1862,"h":1866,"l":1858.5,"c":1864.5,"m":15.4,"s":12.7,"d":2.7},
{"i":328,"o":1864.5,"h":1865.5,"l":1859,"c":1860.5,"m":15.7,"s":13.3,"d":2.4},
{"i":329,"o":1860.5,"h":1864,"l":1857.5,"c":1862.5,"m":15.8,"s":13.8,"d":2.0},
{"i":330,"o":1862.5,"h":1863.5,"l":1856.5,"c":1858,"m":15.6,"s":14.0,"d":1.6},
{"i":331,"o":1858,"h":1862,"l":1855.5,"c":1860.5,"m":15.3,"s":14.1,"d":1.2},
{"i":332,"o":1860.5,"h":1862,"l":1852,"c":1853.5,"m":15.0,"s":14.1,"d":0.9},
{"i":333,"o":1853.5,"h":1855,"l":1846.5,"c":1848,"m":14.6,"s":14.0,"d":0.6},
{"i":334,"o":1848,"h":1858.5,"l":1847.5,"c":1857.5,"m":13.9,"s":13.8,"d":0.1},
{"i":335,"o":1857.5,"h":1866,"l":1856,"c":1864.5,"m":12.9,"s":13.4,"d":-0.5},
{"i":336,"o":1864.5,"h":1869,"l":1861.5,"c":1866.5,"m":12.6,"s":13.1,"d":-0.5},
{"i":337,"o":1866.5,"h":1868,"l":1860,"c":1861.5,"m":12.3,"s":12.8,"d":-0.5},
{"i":338,"o":1861.5,"h":1864,"l":1857.5,"c":1858.5,"m":12.1,"s":12.5,"d":-0.4},
{"i":339,"o":1858.5,"h":1863,"l":1856,"c":1862,"m":11.7,"s":12.2,"d":-0.5},
{"i":340,"o":1862,"h":1868,"l":1860.5,"c":1866.5,"m":11.3,"s":11.9,"d":-0.6},
{"i":341,"o":1866.5,"h":1869.5,"l":1863,"c":1864,"m":10.9,"s":11.6,"d":-0.7},
{"i":342,"o":1864,"h":1867,"l":1859.5,"c":1861,"m":10.4,"s":11.2,"d":-0.8},
{"i":343,"o":1861,"h":1866,"l":1858.5,"c":1865,"m":9.8,"s":10.8,"d":-1.0},
{"i":344,"o":1865,"h":1869.5,"l":1862,"c":1867.5,"m":9.2,"s":10.4,"d":-1.2},
{"i":345,"o":1867.5,"h":1877.5,"l":1865,"c":1871,"m":8.6,"s":10.0,"d":-1.4},
{"i":346,"o":1871,"h":1873,"l":1862,"c":1864,"m":7.8,"s":9.6,"d":-1.8},
{"i":347,"o":1864,"h":1865.5,"l":1850,"c":1852,"m":6.9,"s":9.0,"d":-2.1},
{"i":348,"o":1852,"h":1856.5,"l":1849,"c":1851,"m":6.3,"s":8.4,"d":-2.1},
{"i":349,"o":1851,"h":1857,"l":1849.5,"c":1855.5,"m":5.8,"s":7.8,"d":-2.0},
{"i":350,"o":1855.5,"h":1861.5,"l":1853.5,"c":1859.5,"m":5.3,"s":7.2,"d":-1.9},
{"i":351,"o":1859.5,"h":1865,"l":1857,"c":1863.5,"m":4.9,"s":6.6,"d":-1.7},
{"i":352,"o":1863.5,"h":1868.5,"l":1861,"c":1866.5,"m":4.6,"s":6.1,"d":-1.5},
{"i":353,"o":1866.5,"h":1869.5,"l":1862.5,"c":1864,"m":4.4,"s":5.8,"d":-1.4},
{"i":354,"o":1864,"h":1868.5,"l":1862,"c":1867.5,"m":4.3,"s":5.5,"d":-1.2},
{"i":355,"o":1867.5,"h":1870,"l":1863,"c":1865.5,"m":4.2,"s":5.2,"d":-1.0},
{"i":356,"o":1865.5,"h":1870,"l":1864,"c":1863.8,"m":4.2,"s":4.9,"d":-0.7},
{"i":357,"o":1863.8,"h":1869.74,"l":1863.2,"c":1864.27,"m":4.1,"s":4.7,"d":-0.6}
]},
"vconcat":[
{"width":1869,"height":732,
"layer":[
{"data":{"name":"zones"},"mark":{"type":"rect","opacity":1},
"encoding":{"x":{"field":"a","type":"quantitative","scale":{"domain":[-0.25,467],"nice":false,"zero":false},"axis":null},"x2":{"field":"b"},
"y":{"field":"lo","type":"quantitative","scale":{"domain":[1685.5,1918.1],"nice":false,"zero":false},"axis":{"orient":"right","values":[1906,1895.5,1885,1874.5,1853.5,1843,1832.5,1811.8,1801.3,1790.8,1780.3,1769.8,1759.3,1748.8,1738.3,1727.8,1717.3,1706.8,1696.6,1686.1],"labels":false,"tickSize":4,"domain":true}},"y2":{"field":"hi"},
"color":{"field":"z","type":"nominal","legend":null,"scale":{"domain":["top","dark","cyan","pink"],"range":["#b0e0e6","#98a0c2","#b0e0e6","#d8bfd8"]}}}},
{"data":{"name":"levels"},"transform":[{"filter":"datum.k == 'level'"}],"mark":{"type":"rule","color":"#ff0000","strokeWidth":1,"strokeDash":[3,2]},
"encoding":{"y":{"field":"p","type":"quantitative"}}},
{"data":{"name":"levels"},"transform":[{"filter":"datum.k == 'price'"}],"mark":{"type":"rule","color":"#8a8a8a","strokeWidth":1},
"encoding":{"y":{"field":"p","type":"quantitative"}}},
{"data":{"name":"bars"},"mark":{"type":"rule","color":"#3a3a3a","strokeWidth":1},
"encoding":{"x":{"field":"i","type":"quantitative"},"y":{"field":"l","type":"quantitative"},"y2":{"field":"h"}}},
{"data":{"name":"bars"},"mark":{"type":"bar","width":2.4,"stroke":"#333333","strokeWidth":0.8,"opacity":1},
"encoding":{"x":{"field":"i","type":"quantitative"},"y":{"field":"o","type":"quantitative"},"y2":{"field":"c"},
"color":{"condition":{"test":"datum.c >= datum.o","value":"#33dd33"},"value":"#e00000"}}},
{"data":{"name":"arrow"},"mark":{"type":"line","color":"#ee2222","strokeWidth":4,"strokeCap":"round","strokeJoin":"miter"},
"encoding":{"x":{"field":"i","type":"quantitative"},"y":{"field":"p","type":"quantitative"},"order":{"field":"n"}}},
{"data":{"name":"arrow"},"transform":[{"filter":"datum.n == 2"}],"mark":{"type":"point","shape":"triangle-down","filled":true,"color":"#ee2222","size":170,"angle":-28,"opacity":1},
"encoding":{"x":{"field":"i","type":"quantitative"},"y":{"field":"p","type":"quantitative"}}},
{"data":{"name":"yticks"},"mark":{"type":"text","align":"left","baseline":"middle","color":"#6f7c8c","font":"Liberation Sans","fontSize":9},
"encoding":{"x":{"datum":468.5},"y":{"field":"v","type":"quantitative"},"text":{"field":"v","type":"quantitative","format":".2f"}}},
{"data":{"name":"levels"},"mark":{"type":"tick","orient":"horizontal","size":41,"thickness":10,"opacity":1},
"encoding":{"x":{"datum":472.4},"y":{"field":"p","type":"quantitative"},
"color":{"condition":{"test":"datum.k == 'price'","value":"#707070"},"value":"#ff0000"}}},
{"data":{"name":"levels"},"mark":{"type":"text","align":"left","baseline":"middle","color":"white","font":"Liberation Sans","fontSize":9.5,"dy":0.5},
"encoding":{"x":{"datum":468.1},"y":{"field":"p","type":"quantitative"},"text":{"field":"p","type":"quantitative","format":".2f"}}},
{"data":{"values":[{"t":"▼ XAUUSD,H4  1863.80 1869.74 1863.20 1864.27"}]},"mark":{"type":"text","align":"left","baseline":"middle","color":"#5f6b78","font":"Liberation Sans","fontSize":9},
"encoding":{"x":{"datum":1.0},"y":{"datum":1916.3},"text":{"field":"t"}}}
]},
{"width":1869,"height":137,
"layer":[
{"data":{"name":"bars"},"mark":{"type":"rule","strokeWidth":1},
"encoding":{"x":{"field":"i","type":"quantitative","scale":{"domain":[-0.25,467],"nice":false,"zero":false},
"axis":{"orient":"bottom","values":[0,16,32,48,64,80,96,112,128,144,160,176,192,208,224,240,256,272,288,304,320,336,352],"labelExpr":"['27 Aug 2021','31 Aug 21:00','3 Sep 13:00','8 Sep 09:00','13 Sep 01:00','15 Sep 17:00','20 Sep 09:00','23 Sep 01:00','27 Sep 17:00','30 Sep 09:00','5 Oct 01:00','7 Oct 09:00','11 Oct 21:00','14 Oct 13:00','19 Oct 05:00','21 Oct 21:00','26 Oct 13:00','29 Oct 05:00','2 Nov 21:00','5 Nov 13:00','10 Nov 05:00','12 Nov 21:00','17 Nov 13:00'][round(datum.value/16)]","labelAlign":"left","labelPadding":1,"tickSize":4,"domain":false,"labelFlush":false,"labelOverlap":false}},
"y":{"field":"d","type":"quantitative","scale":{"domain":[-14.6,17.6],"nice":false,"zero":false},
"axis":{"orient":"right","values":[15.6,0,-13.1],"labelExpr":"datum.value == 0 ? '0.00' : format(datum.value, '.1f')","tickSize":4,"labelPadding":2,"domain":true,"labelOverlap":false}},
"y2":{"datum":0},
"color":{"condition":{"test":"datum.d >= 0","value":"#1a8a1a"},"value":"#ff0000"}}},
{"data":{"name":"bars"},"mark":{"type":"line","color":"#0000ff","strokeWidth":1.2},
"encoding":{"x":{"field":"i","type":"quantitative"},"y":{"field":"m","type":"quantitative"}}},
{"data":{"name":"bars"},"mark":{"type":"line","color":"#ff0000","strokeWidth":1.2},
"encoding":{"x":{"field":"i","type":"quantitative"},"y":{"field":"s","type":"quantitative"}}},
{"data":{"values":[{"t":"MACD(12,26,9) 4.1 4.7 0.0 -0.6"}]},"mark":{"type":"text","align":"left","baseline":"middle","color":"#5f6b78","font":"Liberation Sans","fontSize":9},
"encoding":{"x":{"datum":1.0},"y":{"datum":15.0},"text":{"field":"t"}}}
]}
]
}
